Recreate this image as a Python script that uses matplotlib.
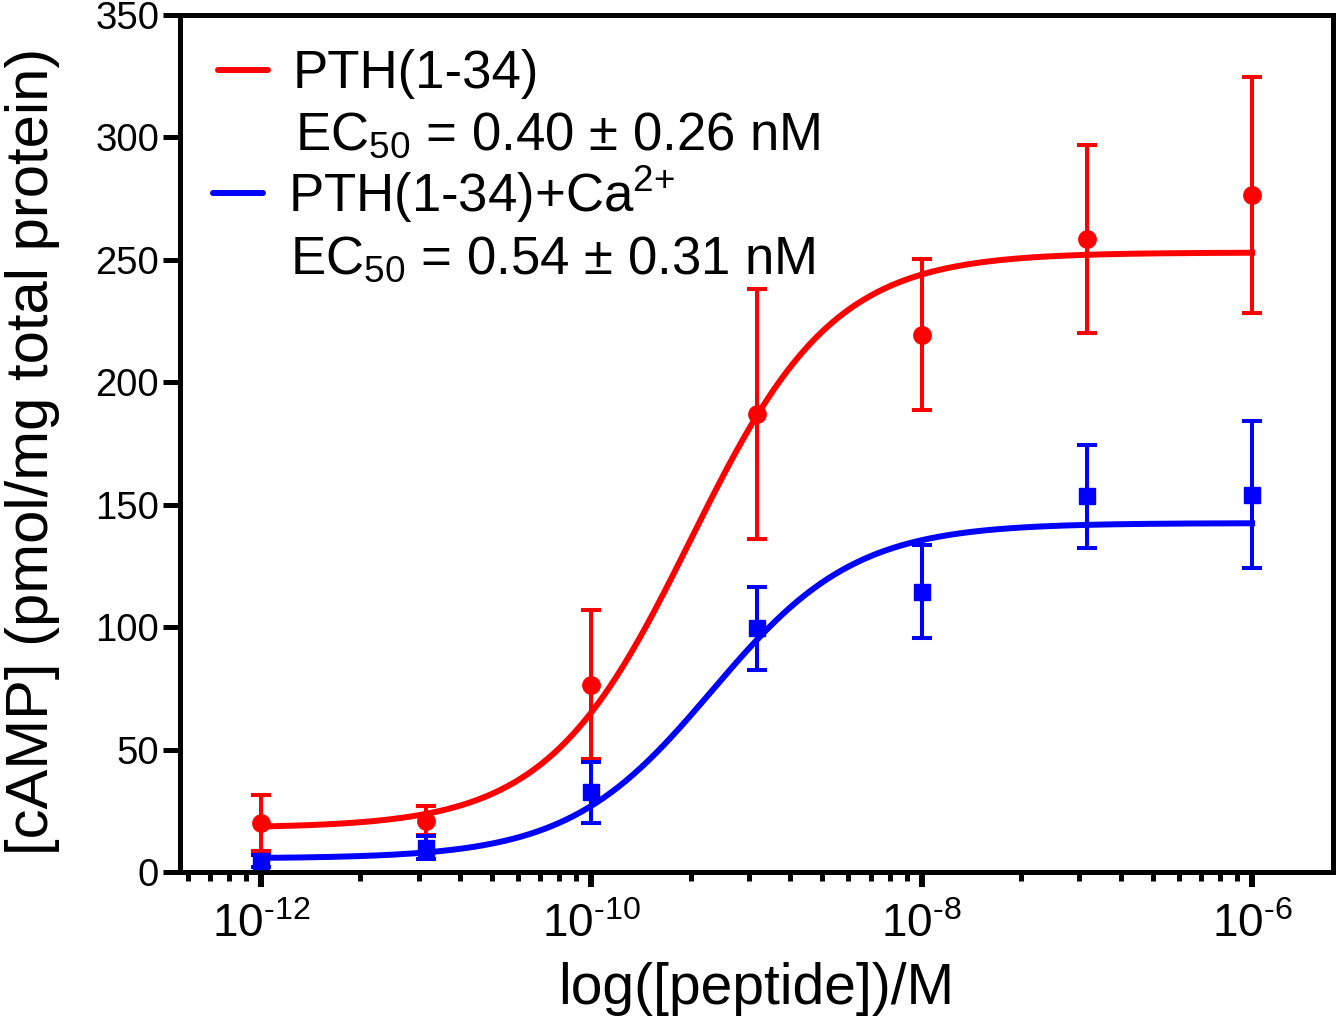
import numpy as np
import matplotlib
matplotlib.use("Agg")
import matplotlib.pyplot as plt
from matplotlib.ticker import NullFormatter

plt.rcParams['font.family'] = 'Liberation Sans'
plt.rcParams['mathtext.fontset'] = 'custom'
plt.rcParams['mathtext.rm'] = 'Liberation Sans'
plt.rcParams['mathtext.it'] = 'Liberation Sans:italic'
plt.rcParams['mathtext.bf'] = 'Liberation Sans:bold'

# concentrations (M)
conc = [1e-12, 1e-11, 1e-10, 1e-9, 1e-8, 1e-7, 1e-6]

# PTH(1-34)
pth_mean = [20.0, 21.0, 76.5, 187.0, 219.5, 258.5, 276.5]
pth_err = [11.5, 6.0, 30.5, 51.0, 31.0, 38.5, 48.0]

# PTH(1-34) + Ca2+
pthca_mean = [4.5, 10.0, 32.5, 99.5, 114.5, 153.5, 154.0]
pthca_err = [2.5, 4.5, 12.5, 17.0, 19.0, 21.0, 30.0]

# fitted 4PL parameters: bottom, top, logEC50, hill slope
pth_fit = [18.0, 253.0, -9.40, 1.0]
pthca_fit = [5.5, 142.5, -9.27, 1.0]

pth_label = ['PTH(1-34)', r'EC$_{50}$ = 0.40 ± 0.26 nM']
pthca_label = [r'PTH(1-34)+Ca$^{2\text{+}}$', r'EC$_{50}$ = 0.54 ± 0.31 nM']

major_ticks = [1e-12, 1e-10, 1e-8, 1e-6]
major_labels = [r'$\mathregular{10^{\text{-}12}}$', r'$\mathregular{10^{\text{-}10}}$',
                r'$\mathregular{10^{\text{-}8}}$', r'$\mathregular{10^{\text{-}6}}$']

RED = '#ff0000'
BLUE = '#0000ff'


def four_pl(x, bottom, top, log_ec50, hill):
    return bottom + (top - bottom) / (1 + 10 ** ((log_ec50 - np.log10(x)) * hill))


fig = plt.figure(figsize=(13.37, 10.22), dpi=100)
ax = fig.add_axes([180 / 1337, 1 - 872 / 1022, 1153 / 1337, 857 / 1022])

x_fit = np.logspace(-12, -6, 400)
ax.plot(x_fit, four_pl(x_fit, *pth_fit), color=RED, lw=4.3, zorder=3)
ax.plot(x_fit, four_pl(x_fit, *pthca_fit), color=BLUE, lw=4.3, zorder=3)

ax.errorbar(conc, pth_mean, yerr=pth_err, fmt='o', color=RED, ms=12.5,
            elinewidth=2.9, capsize=7.5, capthick=2.9, zorder=4)
ax.errorbar(conc, pthca_mean, yerr=pthca_err, fmt='s', color=BLUE, ms=12,
            elinewidth=2.9, capsize=7.5, capthick=2.9, zorder=4)

ax.set_xscale('log')
ax.set_xlim(10 ** -12.49, 10 ** -5.51)
ax.set_ylim(0, 350)
ax.set_yticks(np.arange(0, 351, 50))
ax.set_xticks(major_ticks)
ax.set_xticklabels(major_labels)

# minor ticks spaced like log ticks over each two-decade step
minor = []
for m in [-14, -12, -10, -8, -6]:
    for k in range(2, 10):
        v = m + 2 * np.log10(k)
        if -12.49 < v < -5.51:
            minor.append(10 ** v)
ax.set_xticks(minor, minor=True)
ax.xaxis.set_minor_formatter(NullFormatter())

for sp in ax.spines.values():
    sp.set_linewidth(3.6)
ax.tick_params(axis='x', which='major', length=11, width=4.3, labelsize=33, pad=11)
ax.tick_params(axis='x', which='minor', length=6.5, width=3.6)
ax.tick_params(axis='y', which='major', length=12, width=3.6, labelsize=27.5, pad=3)

ax.set_xlabel('log([peptide])/M', fontsize=41)
ax.xaxis.set_label_coords(0.5, -0.105)
ax.set_ylabel('[cAMP] (pmol/mg total protein)', fontsize=43)
ax.yaxis.set_label_coords(-0.104, 0.491)

# legend drawn by hand
ax.plot([0.033, 0.0763], [0.9358, 0.9358], color=RED, lw=4.3,
        solid_capstyle='round', transform=ax.transAxes, clip_on=False)
ax.plot([0.0286, 0.072], [0.7923, 0.7923], color=BLUE, lw=4.3,
        solid_capstyle='round', transform=ax.transAxes, clip_on=False)
ax.text(0.098, 0.9148, pth_label[0], fontsize=38, va='baseline', transform=ax.transAxes)
ax.text(0.0997, 0.8425, pth_label[1], fontsize=38, va='baseline', transform=ax.transAxes)
ax.text(0.0937, 0.770, pthca_label[0], fontsize=38, va='baseline', transform=ax.transAxes)
ax.text(0.0954, 0.6978, pthca_label[1], fontsize=38, va='baseline', transform=ax.transAxes)

fig.savefig('out.png', dpi=100)
